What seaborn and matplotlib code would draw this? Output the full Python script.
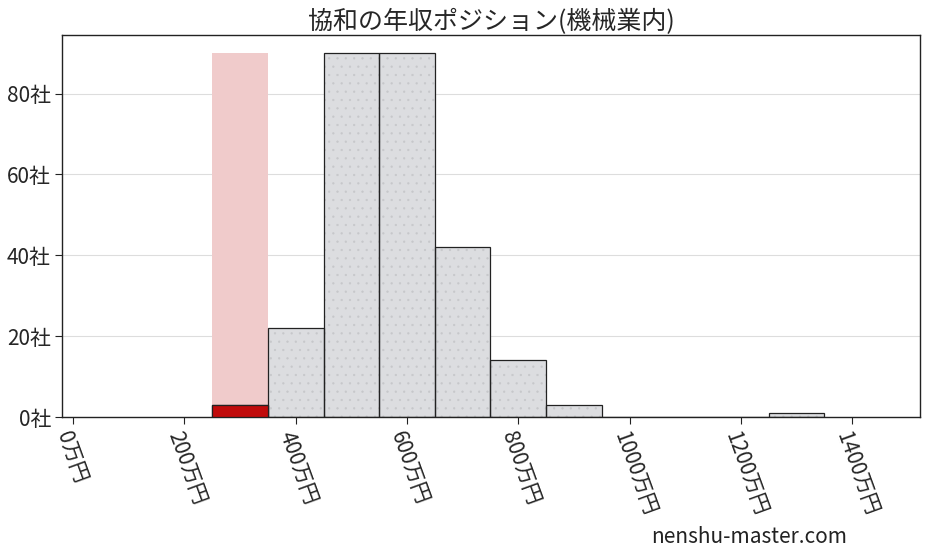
import numpy as np
import pandas as pd
import matplotlib
matplotlib.use("Agg")
import matplotlib.pyplot as plt
import seaborn as sns

# salary bins (万円) and number of companies
bin_centers = [300, 400, 500, 600, 700, 800, 900, 1000, 1100, 1200, 1300]
company_counts = [3, 22, 90, 90, 42, 14, 3, 0, 0, 0, 1]
target_center = 300
target_count = 3
x_ticks = [0, 200, 400, 600, 800, 1000, 1200, 1400]
y_ticks = [0, 20, 40, 60, 80]
title = "協和の年収ポジション(機械業内)"

sns.set_style("white")
plt.rcParams['font.family'] = ['Noto Sans CJK JP', 'DejaVu Sans']
plt.rcParams['hatch.linewidth'] = 0.4

df = pd.DataFrame({"center": bin_centers, "count": company_counts})
edges = list(np.arange(250, 1351, 100))

fig = plt.figure(figsize=(9.27, 5.57), dpi=100)
ax = fig.add_axes([62 / 927, 1 - 417 / 557, (920 - 62) / 927, (417 - 35) / 557])

ymax = max(company_counts)

# highlight column behind the company's bin
ax.bar(target_center, ymax, width=100, color="#f0cbcb", linewidth=0, zorder=1)

# grey histogram (fill only)
sns.histplot(data=df, x="center", weights="count", bins=edges, ax=ax,
             color="#dcdde0", alpha=1, linewidth=0, zorder=2)

# faint dotted texture on the grey bars
ax.bar(bin_centers, company_counts, width=100, fill=False, hatch="..",
       edgecolor="#c6c7ca", linewidth=0, zorder=2.5)

# bar outlines
ax.bar(bin_centers, company_counts, width=100, fill=False,
       edgecolor="#222222", linewidth=0.9, zorder=3)

# the company's own bin in red
sns.histplot(x=[target_center], weights=[target_count], bins=[250, 350], ax=ax,
             color="#c00b0b", alpha=1, edgecolor="#222222", linewidth=0.9, zorder=4)

ax.set_xlim(-20, 1522)
ax.set_ylim(0, ymax * 1.05)
ax.set_xticks(x_ticks)
ax.set_xticklabels([f"{v}万円" for v in x_ticks], rotation=-70, ha="left",
                   va="top", rotation_mode="anchor", fontsize=15)
ax.set_yticks(y_ticks)
ax.set_yticklabels([f"{v}社" for v in y_ticks], fontsize=15)
ax.tick_params(axis="both", length=5, width=0.8, color="#222222", pad=3, direction="out")
ax.tick_params(axis="x", bottom=True)
ax.tick_params(axis="y", left=True)
ax.yaxis.grid(True, color="#dddddd", linewidth=0.8, zorder=0)
ax.set_axisbelow(True)
ax.set_xlabel("")
ax.set_ylabel("")
for s in ax.spines.values():
    s.set_color("#222222")
    s.set_linewidth(1.0)

ax.set_title(title, fontsize=18, pad=4)
fig.text(847 / 927, 1 - 537 / 557, "nenshu-master.com", ha="right", va="center",
         fontsize=15, color="#222222")

fig.savefig("out.png", dpi=100)
